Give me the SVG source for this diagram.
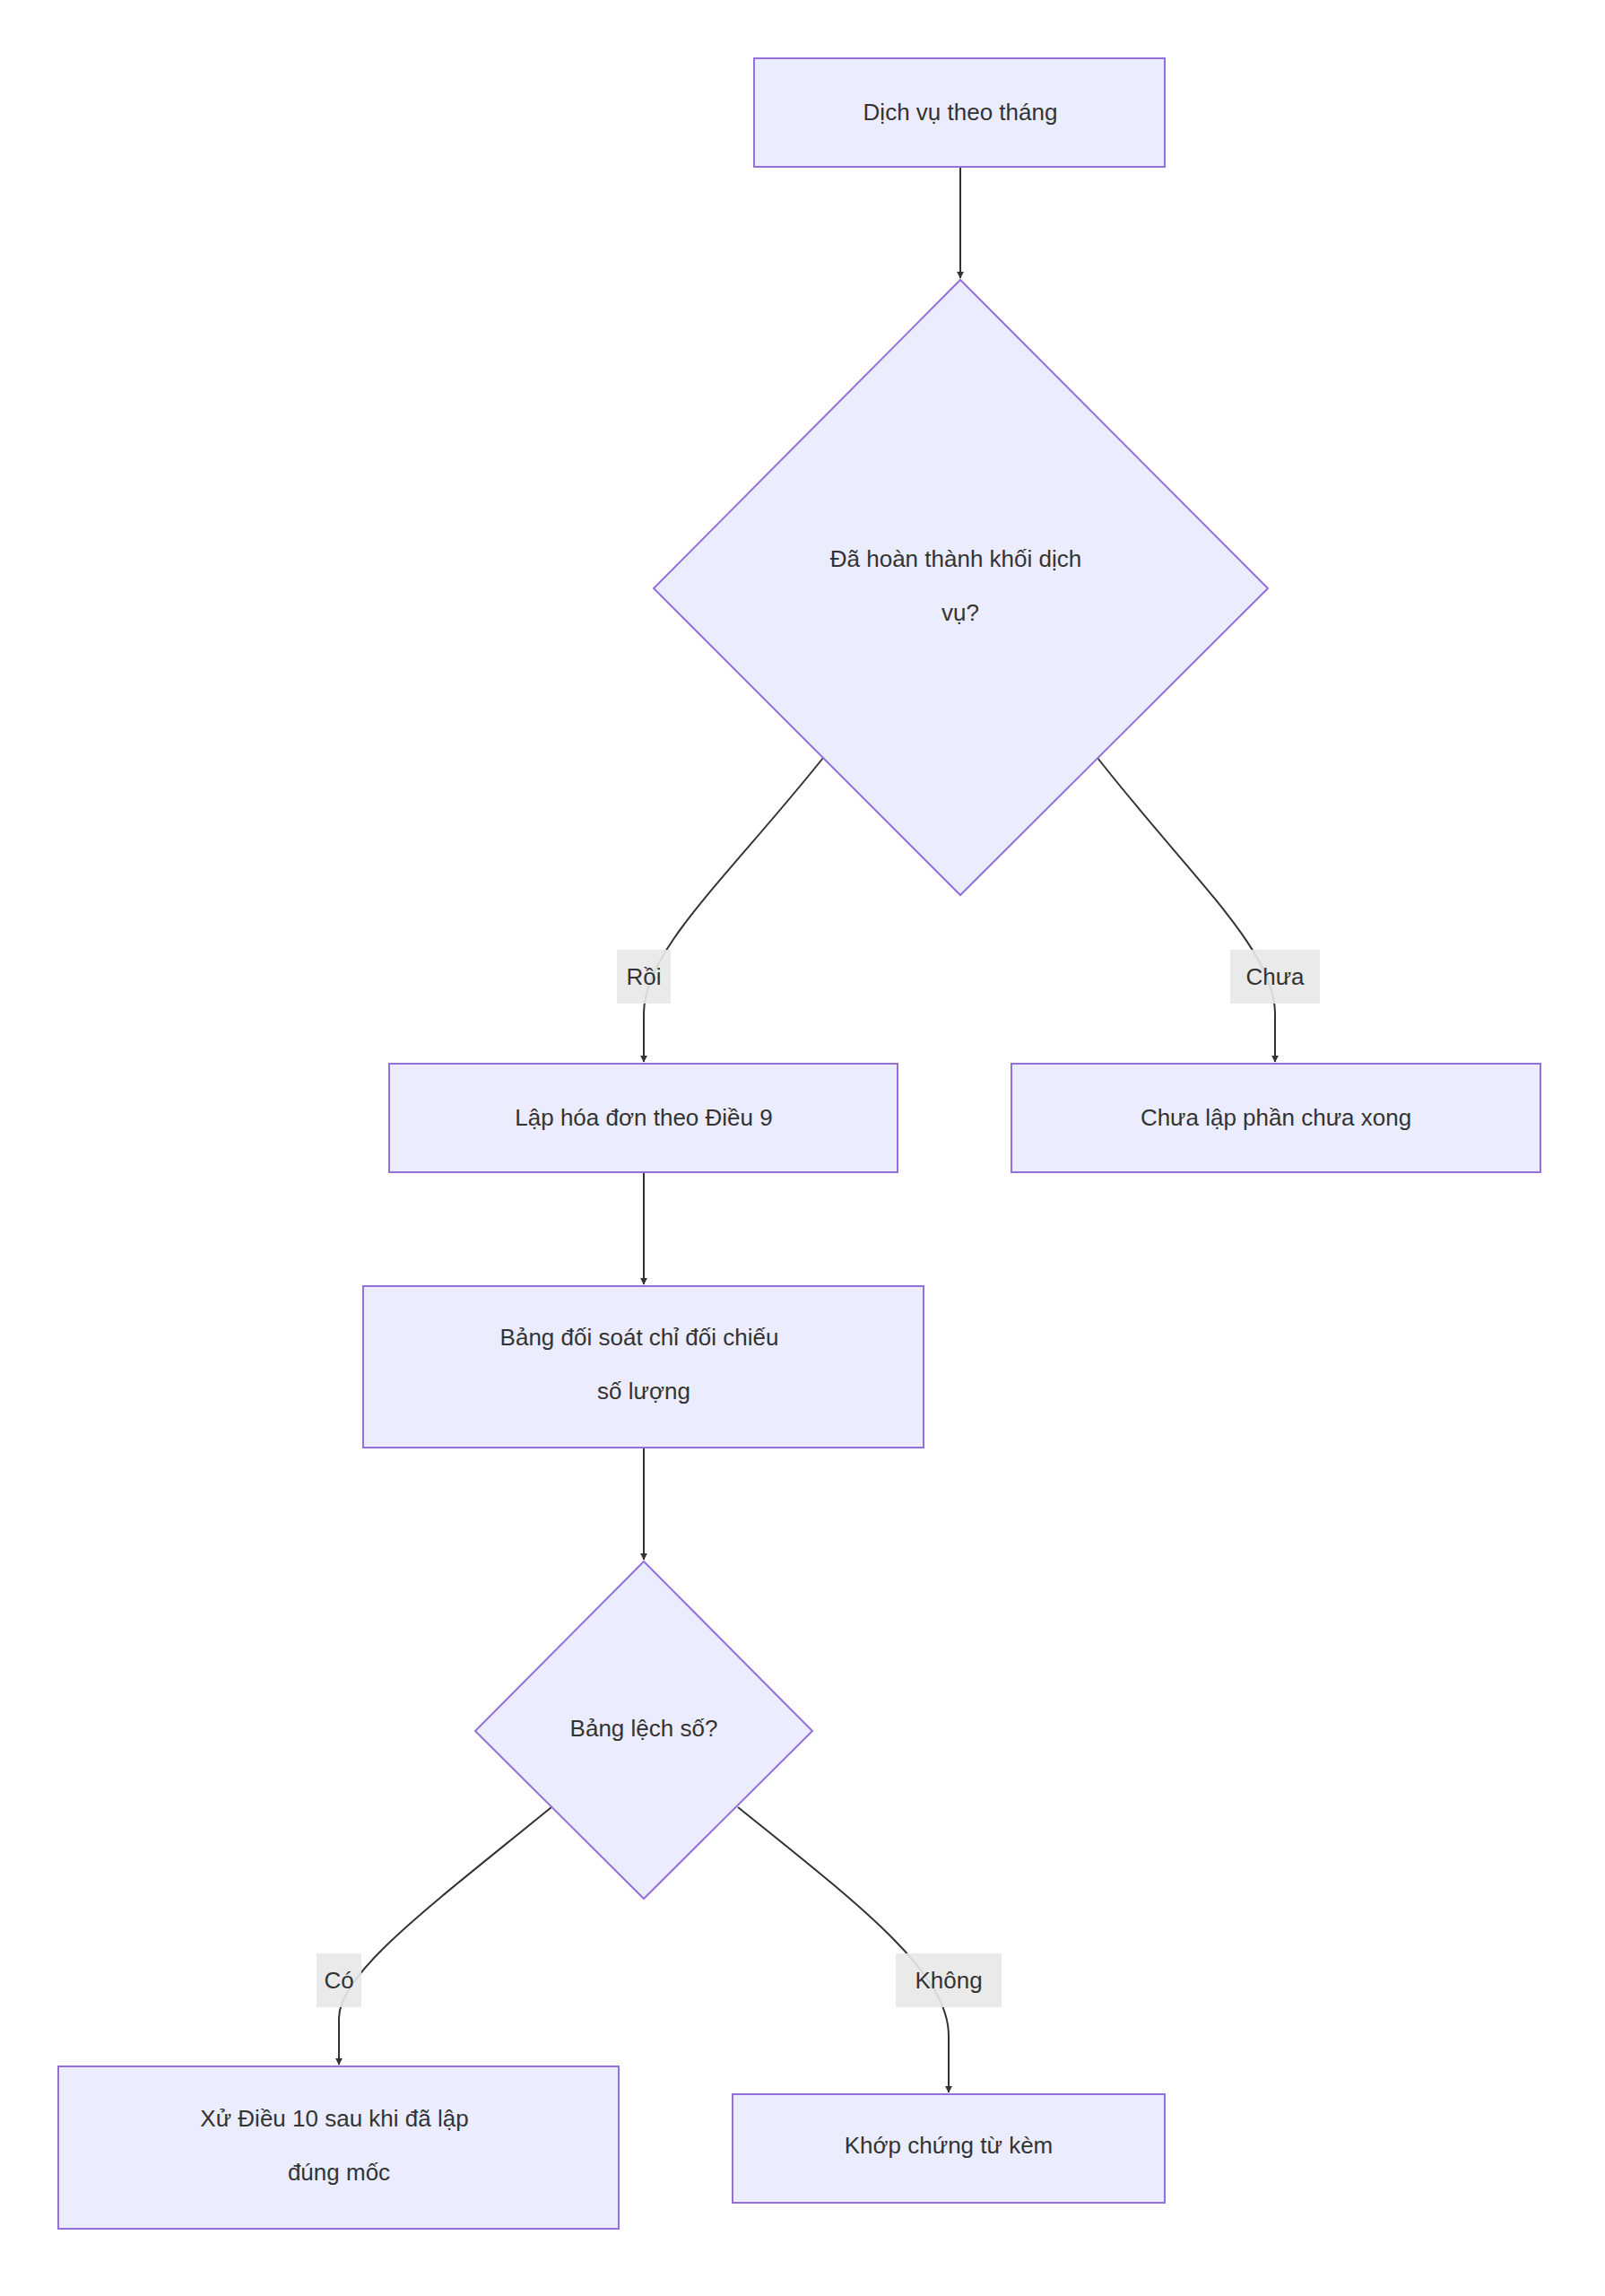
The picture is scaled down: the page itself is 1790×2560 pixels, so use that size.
<svg xmlns="http://www.w3.org/2000/svg" width="1790" height="2560" viewBox="0 0 1790 2560">
<style>
.n{fill:#ECECFF;stroke:#9370DB;stroke-width:2}
.t{font-family:"Liberation Sans",Arial,sans-serif;font-size:26px;fill:#333;text-anchor:middle;dominant-baseline:central}
.e{fill:none;stroke:#333;stroke-width:2}
.lb{fill:#e8e8e8;opacity:0.9}
</style>
<defs><marker id="a" viewBox="0 0 10 10" refX="9" refY="5" markerWidth="8" markerHeight="8" markerUnits="userSpaceOnUse" orient="auto"><path d="M0,0L10,5L0,10z" fill="#333"/></marker></defs>
<rect width="1790" height="2560" fill="#fff"/>
<g id="edges">
<path class="e" d="M1071,186V310" marker-end="url(#a)"/>
<path class="e" d="M918,845C810,980 718,1060 718,1130L718,1184" marker-end="url(#a)"/>
<path class="e" d="M1224,845C1330,980 1422,1060 1422,1130L1422,1184" marker-end="url(#a)"/>
<path class="e" d="M718,1307V1432" marker-end="url(#a)"/>
<path class="e" d="M718,1614V1739" marker-end="url(#a)"/>
<path class="e" d="M615,2015C480,2125 378,2200 378,2250L378,2302" marker-end="url(#a)"/>
<path class="e" d="M823,2015C960,2125 1058,2200 1058,2270L1058,2333" marker-end="url(#a)"/>
</g>
<g id="labels">
<rect class="lb" x="688" y="1059" width="60" height="60"/><text class="t" x="718" y="1089">Rồi</text>
<rect class="lb" x="1372" y="1059" width="100" height="60"/><text class="t" x="1422" y="1089">Chưa</text>
<rect class="lb" x="353" y="2178" width="50" height="60"/><text class="t" x="378" y="2208">Có</text>
<rect class="lb" x="999" y="2178" width="118" height="60"/><text class="t" x="1058" y="2208">Không</text>
</g>
<g id="n1"><rect class="n" x="841" y="65" width="458" height="121"/><text class="t" x="1071" y="125">Dịch vụ theo tháng</text></g>
<g id="n2"><polygon class="n" points="1071,312 1414,656 1071,998 729,656"/><text class="t" x="1066" y="623">Đã hoàn thành khối dịch</text><text class="t" x="1071" y="683">vụ?</text></g>
<g id="n3"><rect class="n" x="434" y="1186" width="567" height="121"/><text class="t" x="718" y="1246">Lập hóa đơn theo Điều 9</text></g>
<g id="n4"><rect class="n" x="1128" y="1186" width="590" height="121"/><text class="t" x="1423" y="1246">Chưa lập phần chưa xong</text></g>
<g id="n5"><rect class="n" x="405" y="1434" width="625" height="180"/><text class="t" x="713" y="1491">Bảng đối soát chỉ đối chiếu</text><text class="t" x="718" y="1551">số lượng</text></g>
<g id="n6"><polygon class="n" points="718,1741 906,1930 718,2117 530,1930"/><text class="t" x="718" y="1927">Bảng lệch số?</text></g>
<g id="n7"><rect class="n" x="65" y="2304" width="625" height="181"/><text class="t" x="373" y="2362">Xử Điều 10 sau khi đã lập</text><text class="t" x="378" y="2422">đúng mốc</text></g>
<g id="n8"><rect class="n" x="817" y="2335" width="482" height="121"/><text class="t" x="1058" y="2392">Khớp chứng từ kèm</text></g>
</svg>
